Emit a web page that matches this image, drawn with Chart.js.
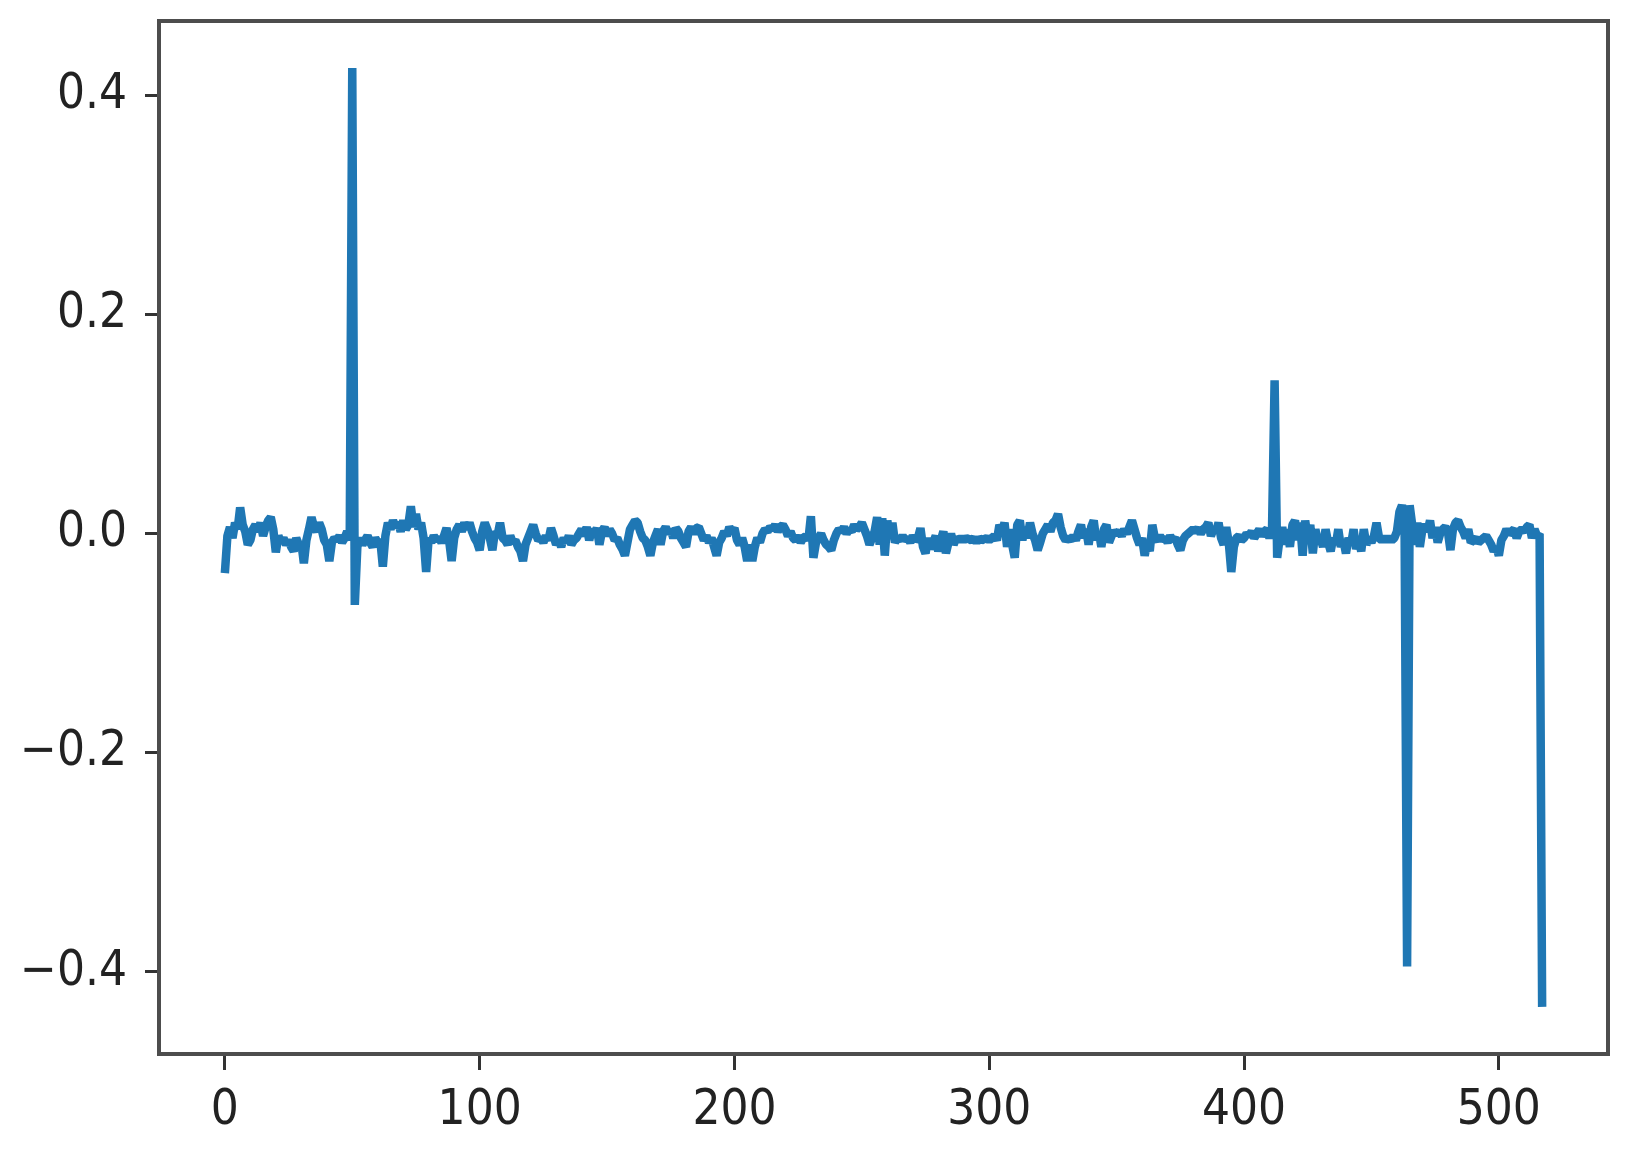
<!DOCTYPE html>
<html>
<head>
<meta charset="utf-8">
<script src="https://cdn.jsdelivr.net/npm/chart.js@4/dist/chart.umd.min.js"></script>
<style>
  html, body { margin: 0; padding: 0; background: #ffffff; }
  #wrap { width: 1633px; height: 1153px; }
</style>
</head>
<body>
<div id="wrap"><canvas id="c" width="1633" height="1153"></canvas></div>
<script>
// ---- data (index 0 .. 517) ----
const yValues = [
  -0.036, -0.002, 0.006, -0.004, 0.010, 0.004, 0.024, 0.008, 0.002, -0.010,
  -0.006, 0.004, 0.008, 0.002, 0.010, -0.002, 0.006, 0.012, 0.015, 0.004,
  -0.017, -0.002, -0.008, -0.004, -0.010, -0.006, -0.012, -0.016, -0.004, -0.010,
  -0.008, -0.027, -0.006, 0.004, 0.015, 0.006, 0.002, 0.010, 0.004, -0.006,
  -0.010, -0.025, -0.008, -0.004, -0.006, -0.002, -0.008, -0.004, 0.002, -0.006,
  0.425, -0.065, -0.012, -0.004, -0.010, -0.006, -0.002, -0.008, -0.012, -0.004,
  -0.008, -0.006, -0.030, -0.002, 0.010, 0.004, 0.012, 0.006, 0.010, 0.002,
  0.012, 0.004, 0.008, 0.025, 0.006, 0.018, 0.004, 0.010, -0.004, -0.035,
  -0.004, -0.008, -0.002, -0.006, -0.004, -0.008, -0.002, 0.005, -0.006, -0.025,
  -0.004, 0.004, 0.008, 0.002, 0.010, 0.004, 0.010, 0.002, -0.004, -0.008,
  -0.015, 0.002, 0.010, 0.004, -0.004, -0.015, 0.002, -0.002, 0.010, -0.004,
  -0.006, -0.010, -0.002, -0.008, -0.006, -0.012, -0.016, -0.025, -0.010, -0.004,
  0.002, 0.008, 0.000, -0.006, -0.004, -0.008, -0.002, -0.006, 0.005, -0.002,
  -0.010, -0.006, -0.012, -0.004, -0.008, -0.002, -0.010, -0.006, -0.004, 0.000,
  0.004, -0.002, 0.006, -0.006, 0.004, 0.000, 0.005, -0.010, 0.002, 0.006,
  -0.002, 0.004, 0.000, -0.006, -0.004, -0.010, -0.014, -0.020, -0.008, 0.004,
  0.008, 0.012, 0.010, 0.002, -0.004, -0.006, -0.012, -0.020, -0.008, -0.002,
  0.004, -0.010, 0.002, 0.006, 0.000, 0.004, -0.004, 0.005, 0.002, -0.004,
  -0.008, -0.012, 0.002, 0.006, 0.000, 0.005, 0.006, 0.000, -0.006, -0.002,
  -0.008, -0.004, -0.012, -0.020, -0.008, -0.004, 0.002, -0.002, 0.006, 0.002,
  0.005, -0.006, -0.010, -0.004, -0.012, -0.025, -0.010, -0.025, -0.012, -0.004,
  -0.008, 0.000, 0.004, 0.002, 0.006, 0.004, 0.008, 0.002, 0.006, 0.008,
  0.004, -0.002, 0.002, -0.004, -0.006, -0.002, -0.008, -0.004, -0.002, -0.006,
  0.016, -0.022, -0.008, -0.004, 0.000, -0.006, -0.010, -0.012, -0.015, -0.006,
  0.000, 0.004, 0.002, 0.006, 0.000, 0.004, 0.002, 0.008, 0.004, 0.006,
  0.010, 0.004, -0.002, -0.010, -0.004, 0.002, 0.015, -0.010, 0.014, -0.020,
  0.012, -0.004, 0.010, -0.008, -0.004, -0.006, -0.002, -0.006, -0.004, -0.008,
  -0.002, -0.006, -0.004, 0.005, -0.012, -0.018, -0.004, -0.014, -0.008, -0.002,
  -0.016, -0.006, 0.002, -0.018, -0.008, 0.000, -0.010, -0.004, -0.006, -0.004,
  -0.006, -0.004, -0.005, -0.006, -0.004, -0.008, -0.004, -0.006, -0.005, -0.004,
  -0.006, -0.004, -0.002, -0.006, 0.008, 0.002, 0.010, -0.012, 0.004, -0.010,
  -0.022, 0.008, 0.012, -0.006, 0.006, -0.004, 0.010, 0.000, -0.006, -0.015,
  -0.008, 0.000, 0.004, 0.008, 0.002, 0.010, 0.012, 0.018, 0.006, -0.002,
  -0.006, -0.004, -0.006, -0.002, -0.006, 0.002, 0.008, -0.004, 0.004, -0.010,
  0.006, 0.012, -0.006, 0.002, -0.012, 0.004, 0.008, -0.008, -0.002, 0.002,
  0.000, 0.002, -0.002, 0.004, 0.000, 0.006, 0.012, 0.004, -0.004, -0.010,
  -0.004, -0.020, -0.008, -0.016, 0.008, -0.004, -0.006, -0.002, -0.006, -0.004,
  -0.008, -0.002, -0.006, -0.004, -0.010, -0.015, -0.006, -0.002, 0.000, 0.002,
  0.004, 0.002, 0.005, 0.000, 0.004, 0.006, 0.010, -0.002, 0.004, 0.002,
  0.010, -0.004, -0.010, 0.006, -0.008, -0.035, -0.012, -0.004, -0.002, -0.006,
  -0.004, 0.000, -0.002, 0.002, -0.004, 0.000, 0.004, -0.002, 0.002, 0.004,
  -0.004, 0.006, 0.140, -0.022, -0.004, 0.006, -0.010, 0.004, -0.012, 0.008,
  0.012, -0.006, 0.010, -0.020, 0.012, -0.004, 0.008, -0.018, 0.004, -0.008,
  -0.004, -0.012, 0.004, -0.008, -0.016, -0.004, -0.010, 0.004, -0.012, -0.006,
  -0.018, -0.004, -0.010, 0.004, -0.014, -0.006, -0.016, 0.004, -0.010, -0.004,
  -0.008, -0.002, 0.010, -0.004, -0.006, -0.004, -0.006, -0.004, -0.006, -0.004,
  0.002, 0.020, 0.026, 0.010, -0.395, 0.026, 0.008, -0.010, 0.010, -0.012,
  0.004, 0.008, 0.002, 0.012, -0.004, 0.006, -0.008, 0.000, 0.004, 0.006,
  0.002, -0.015, 0.004, 0.010, 0.012, 0.006, 0.002, -0.004, 0.004, -0.008,
  -0.006, -0.004, -0.008, -0.006, -0.004, -0.002, -0.006, -0.010, -0.016, -0.012,
  -0.020, -0.006, -0.002, 0.004, 0.000, 0.002, 0.004, -0.004, 0.002, 0.004,
  0.002, 0.006, 0.008, -0.004, 0.004, -0.002, 0.000, -0.432
];
const xIndex = yValues.map((_, i) => i);
const xTickValues = [0, 100, 200, 300, 400, 500];
const yTickValues = [-0.4, -0.2, 0.0, 0.2, 0.4];

// pick a narrow DejaVu-like face if one is installed (reference digits are tall and narrow)
function pickFont() {
  const ctx = document.createElement('canvas').getContext('2d');
  const probe = '0123456789.';
  ctx.font = '50px monospace';
  const base = ctx.measureText(probe).width;
  const cands = [
    { family: "'DejaVu Sans Condensed'", size: 49 },
    { family: "'Liberation Sans Narrow'", size: 51 }
  ];
  for (const c of cands) {
    ctx.font = '50px ' + c.family + ', monospace';
    if (Math.abs(ctx.measureText(probe).width - base) > 0.5) return c;
  }
  return { family: "'DejaVu Sans'", size: 47 };
}
const tickFont = pickFont();

const frame = {
  id: 'frame',
  afterDraw(chart) {
    const a = chart.chartArea, ctx = chart.ctx;
    ctx.save();
    ctx.strokeStyle = '#4d4d4d';
    ctx.lineWidth = 4;
    ctx.strokeRect(a.left, a.top, a.right - a.left, a.bottom - a.top);
    ctx.restore();
  }
};

const fmt = v => {
  const s = Number(v).toFixed(1);
  return s.startsWith('-') ? '\u2212' + s.slice(1) : s;
};

new Chart(document.getElementById('c'), {
  type: 'line',
  data: {
    labels: xIndex,
    datasets: [{
      data: yValues,
      borderColor: '#1f77b4',
      borderWidth: 8.5,
      pointRadius: 0,
      tension: 0,
      borderJoinStyle: 'bevel',
      borderCapStyle: 'butt',
      fill: false
    }]
  },
  options: {
    responsive: false,
    animation: false,
    events: [],
    layout: { padding: { left: 0, top: 21, right: 25, bottom: 0 } },
    plugins: { legend: { display: false }, tooltip: { enabled: false } },
    scales: {
      x: {
        type: 'linear',
        min: -25.85,
        max: 542.85,
        afterBuildTicks: ax => { ax.ticks = xTickValues.map(v => ({ value: v })); },
        afterFit: ax => { ax.height = 99; ax.paddingLeft = 0; ax.paddingRight = 0; },
        grid: { display: true, drawOnChartArea: false, drawTicks: true, tickLength: 16, tickWidth: 3, tickColor: '#333' },
        border: { display: false },
        ticks: {
          autoSkip: false, maxRotation: 0, padding: 12,
          color: '#222',
          font: { family: tickFont.family, size: tickFont.size },
          callback: v => String(v)
        }
      },
      y: {
        type: 'linear',
        min: -0.475,
        max: 0.468,
        afterBuildTicks: ax => { ax.ticks = yTickValues.map(v => ({ value: v })); },
        afterFit: ax => { ax.width = 159; ax.paddingTop = 0; ax.paddingBottom = 0; },
        grid: { display: true, drawOnChartArea: false, drawTicks: true, tickLength: 14, tickWidth: 3, tickColor: '#333' },
        border: { display: false },
        ticks: {
          autoSkip: false, padding: 18,
          color: '#222',
          font: { family: tickFont.family, size: tickFont.size },
          callback: v => fmt(v)
        }
      }
    }
  },
  plugins: [frame]
});
</script>
</body>
</html>
